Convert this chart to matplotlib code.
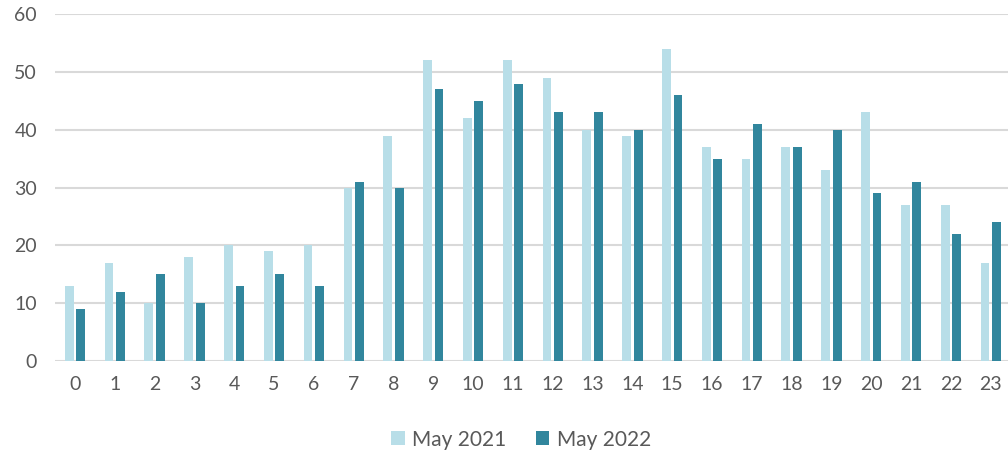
import numpy as np
import matplotlib.pyplot as plt

plt.rcParams['font.family'] = ['Lato', 'DejaVu Sans']

hours = [str(h) for h in range(24)]
may2021 = [13, 17, 10, 18, 20, 19, 20, 30, 39, 52, 42, 52, 49, 40, 39, 54, 37, 35, 37, 33, 43, 27, 27, 17]
may2022 = [9, 12, 15, 10, 13, 15, 13, 31, 30, 47, 45, 48, 43, 43, 40, 46, 35, 41, 37, 40, 29, 31, 22, 24]

light = '#B8DEE8'
dark = '#31869D'
grey = '#595959'

fig = plt.figure(figsize=(10.08, 4.57), dpi=100)
ax = fig.add_axes([0.0546, 0.21, 0.948, 0.759])

x = np.arange(len(hours))
w = 0.22
ax.bar(x - 0.145, may2021, w, color=light, label='May 2021', zorder=3)
ax.bar(x + 0.145, may2022, w, color=dark, label='May 2022', zorder=3)

ax.set_xlim(-0.5, 23.5)
ax.set_ylim(0, 60)
ax.set_yticks(range(0, 61, 10))
ax.set_xticks(x)
ax.set_xticklabels(hours)
ax.grid(axis='y', color='#D9D9D9', linewidth=1.5, zorder=0)
for s in ax.spines.values():
    s.set_visible(False)
ax.tick_params(length=0, labelsize=14, labelcolor=grey)
ax.tick_params(axis='y', pad=13)
ax.tick_params(axis='x', pad=11)

fig.legend(loc='lower center', bbox_to_anchor=(0.517, -0.025), ncol=2, frameon=False,
           fontsize=15, labelcolor=grey, handlelength=0.65, handleheight=0.65,
           handletextpad=0.35, columnspacing=1.4)

fig.savefig('out.png', dpi=100)
